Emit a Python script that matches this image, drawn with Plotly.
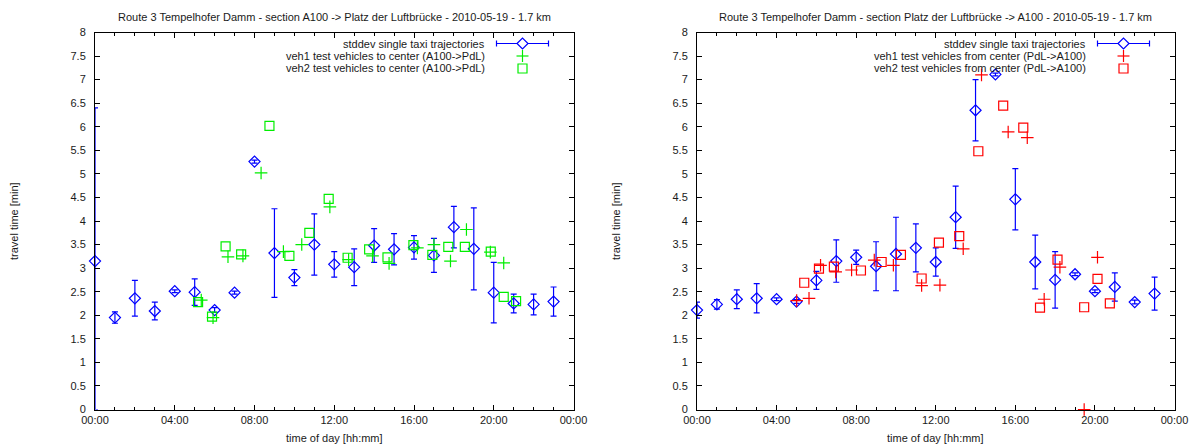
import plotly.graph_objects as go

W, H = 1193, 447

# ---------------- data ----------------
hours = list(range(24))

# left panel: A100 -> Platz der Luftbrücke
taxi_l_mean = [3.15, 1.95, 2.36, 2.09, 2.51, 2.49, 2.11, 2.48, 5.26, 3.32, 2.80, 3.50,
               3.08, 3.02, 3.48, 3.40, 3.44, 3.27, 3.87, 3.41, 2.48, 2.25, 2.23, 2.29]
taxi_l_sd = [3.25, 0.12, 0.38, 0.19, 0.03, 0.28, 0.05, 0.03, 0.03, 0.94, 0.17, 0.65,
             0.27, 0.39, 0.36, 0.33, 0.25, 0.36, 0.44, 0.87, 0.64, 0.20, 0.22, 0.31]
veh1_l_t = [5.33, 5.92, 6.67, 7.42, 8.33, 9.45, 10.37, 11.78, 12.72, 13.92, 14.75,
            16.17, 17.0, 17.83, 18.63, 19.83, 20.5]
veh1_l = [2.32, 1.95, 3.24, 3.26, 5.02, 3.35, 3.50, 4.30, 3.18, 3.26, 3.10,
          3.43, 3.50, 3.15, 3.82, 3.34, 3.11]
veh2_l_t = [5.17, 5.87, 6.55, 7.33, 8.75, 9.75, 10.75, 11.72, 12.67, 13.75, 14.67,
            15.97, 16.92, 17.72, 18.55, 19.85, 20.5, 21.12]
veh2_l = [2.28, 1.97, 3.46, 3.29, 6.02, 3.26, 3.75, 4.47, 3.22, 3.40, 3.23,
          3.49, 3.28, 3.45, 3.45, 3.35, 2.39, 2.30]

# right panel: Platz der Luftbrücke -> A100
taxi_r_mean = [2.11, 2.23, 2.34, 2.36, 2.34, 2.29, 2.74, 3.15, 3.23, 3.04, 3.30, 3.43,
               3.13, 4.08, 6.35, 7.11, 4.46, 3.13, 2.75, 2.87, 2.51, 2.60, 2.28, 2.46]
taxi_r_sd = [0.17, 0.10, 0.20, 0.31, 0.03, 0.04, 0.19, 0.45, 0.15, 0.52, 0.78, 0.51,
             0.30, 0.66, 0.65, 0.03, 0.65, 0.57, 0.60, 0.03, 0.03, 0.30, 0.04, 0.35]
veh1_r_t = [5.01, 5.63, 6.21, 6.97, 7.77, 8.91, 9.87, 11.29, 12.21, 13.38, 14.30,
            15.64, 16.60, 17.45, 18.24, 19.46, 20.13]
veh1_r = [2.31, 2.36, 3.06, 2.92, 2.96, 3.17, 3.06, 2.63, 2.64, 3.41, 7.10,
          5.89, 5.77, 2.34, 3.02, 0.0, 3.23]
veh2_r_t = [5.39, 6.13, 6.88, 8.24, 9.28, 10.25, 11.29, 12.16, 13.18, 14.14, 15.39,
            16.40, 17.24, 18.12, 19.46, 20.13, 20.75]
veh2_r = [2.69, 2.99, 3.03, 2.95, 3.13, 3.28, 2.78, 3.54, 3.68, 5.48, 6.45,
          5.98, 2.16, 3.18, 2.17, 2.77, 2.25]

x_tickvals = [0, 4, 8, 12, 16, 20, 24]
x_ticktext = ["00:00", "04:00", "08:00", "12:00", "16:00", "20:00", "00:00"]

titles = ["Route 3 Tempelhofer Damm - section A100 -> Platz der Luftbrücke - 2010-05-19 - 1.7 km",
          "Route 3 Tempelhofer Damm - section Platz der Luftbrücke -> A100 - 2010-05-19 - 1.7 km"]
legend_l = ["stddev single taxi trajectories",
            "veh1 test vehicles to center (A100->PdL)",
            "veh2 test vehicles to center (A100->PdL)"]
legend_r = ["stddev single taxi trajectories",
            "veh1 test vehicles from center (PdL->A100)",
            "veh2 test vehicles from center (PdL->A100)"]

BLUE = "#0000ff"
GREEN = "#00ee00"
RED = "#ff0000"
FONT = "Liberation Sans, Arial, sans-serif"
TXT = "#1a1a1a"

# panel pixel geometry
panels = [(95.0, 573.5), (697.0, 1174.5)]
PY_TOP, PY_BOT = 32.5, 409.5


def px(x):
    return x / W


def py(y):
    return 1 - y / H


fig = go.Figure()


def add_panel(i, mean, sd, t1, v1, t2, v2, col):
    xa = "x" if i == 0 else "x2"
    ya = "y" if i == 0 else "y2"
    minus = [min(s, m) for s, m in zip(sd, mean)]
    fig.add_trace(go.Scatter(
        x=hours, y=mean, mode="markers", xaxis=xa, yaxis=ya, cliponaxis=False,
        marker=dict(symbol="diamond-open", size=8.5, color=BLUE, line=dict(width=1.2, color=BLUE)),
        error_y=dict(type="data", array=sd, arrayminus=minus, symmetric=False,
                     color=BLUE, thickness=1.2, width=3),
        showlegend=False))
    fig.add_trace(go.Scatter(
        x=t1, y=v1, mode="markers", xaxis=xa, yaxis=ya, cliponaxis=False,
        marker=dict(symbol="cross-thin-open", size=9, color=col, line=dict(width=1.2, color=col)),
        showlegend=False))
    fig.add_trace(go.Scatter(
        x=t2, y=v2, mode="markers", xaxis=xa, yaxis=ya, cliponaxis=False,
        marker=dict(symbol="square-open", size=9, color=col, line=dict(width=1.2, color=col)),
        showlegend=False))


add_panel(0, taxi_l_mean, taxi_l_sd, veh1_l_t, veh1_l, veh2_l_t, veh2_l, GREEN)
add_panel(1, taxi_r_mean, taxi_r_sd, veh1_r_t, veh1_r, veh2_r_t, veh2_r, RED)

axis_common = dict(showline=True, linecolor="black", linewidth=1, mirror="allticks",
                   ticks="inside", tickcolor="black", showgrid=False, zeroline=False,
                   tickfont=dict(family=FONT, size=11, color=TXT))

for i, (x0, x1) in enumerate(panels):
    sfx = "" if i == 0 else "2"
    fig.layout["xaxis" + sfx] = dict(
        axis_common, domain=[px(x0), px(x1)], range=[0, 24], anchor="y" + sfx,
        tickvals=x_tickvals, ticktext=x_ticktext, ticklen=5,
        minor=dict(dtick=1, ticks="inside", ticklen=3, tickcolor="black", showgrid=False))
    fig.layout["yaxis" + sfx] = dict(
        axis_common, domain=[py(PY_BOT), py(PY_TOP)], range=[0, 8], anchor="x" + sfx,
        dtick=0.5, tick0=0, ticklen=5, ticklabelstandoff=6)

annotations = []
shapes = []
for i, (x0, x1) in enumerate(panels):
    cx = (x0 + x1) / 2
    annotations.append(dict(text=titles[i], x=px(cx), y=py(17), xref="paper", yref="paper",
                            xanchor="center", yanchor="middle", showarrow=False,
                            font=dict(family=FONT, size=11, color=TXT)))
    annotations.append(dict(text="time of day [hh:mm]", x=px(cx), y=py(438), xref="paper",
                            yref="paper", xanchor="center", yanchor="middle", showarrow=False,
                            font=dict(family=FONT, size=11, color=TXT)))
    annotations.append(dict(text="travel time [min]", x=px(x0 - 81), y=py((PY_TOP + PY_BOT) / 2),
                            xref="paper", yref="paper", xanchor="center", yanchor="middle",
                            textangle=-90, showarrow=False,
                            font=dict(family=FONT, size=11, color=TXT)))
    labels = legend_l if i == 0 else legend_r
    col = GREEN if i == 0 else RED
    tx = x1 - 87
    sx = x1 - 51
    rows = [43.5, 56, 68.5]
    for lab, ry in zip(labels, rows):
        annotations.append(dict(text=lab, x=px(tx), y=py(ry), xref="paper", yref="paper",
                                xanchor="right", yanchor="middle", showarrow=False,
                                font=dict(family=FONT, size=11, color=TXT)))
    # legend key: error bar + diamond
    ry = rows[0]
    shapes.append(dict(type="line", xref="paper", yref="paper", x0=px(sx - 26), x1=px(sx + 26),
                       y0=py(ry), y1=py(ry), line=dict(color=BLUE, width=1.2)))
    for ex in (sx - 26, sx + 26):
        shapes.append(dict(type="line", xref="paper", yref="paper", x0=px(ex), x1=px(ex),
                           y0=py(ry - 3), y1=py(ry + 3), line=dict(color=BLUE, width=1.2)))
    d = 5.5
    path = "M {} {} L {} {} L {} {} L {} {} Z".format(
        px(sx - d), py(ry), px(sx), py(ry - d), px(sx + d), py(ry), px(sx), py(ry + d))
    shapes.append(dict(type="path", xref="paper", yref="paper", path=path,
                       fillcolor="white", line=dict(color=BLUE, width=1.2)))
    # cross
    ry = rows[1]
    c = 6
    shapes.append(dict(type="line", xref="paper", yref="paper", x0=px(sx - c), x1=px(sx + c),
                       y0=py(ry), y1=py(ry), line=dict(color=col, width=1.2)))
    shapes.append(dict(type="line", xref="paper", yref="paper", x0=px(sx), x1=px(sx),
                       y0=py(ry - c), y1=py(ry + c), line=dict(color=col, width=1.2)))
    # square
    ry = rows[2]
    s = 4.5
    shapes.append(dict(type="rect", xref="paper", yref="paper", x0=px(sx - s), x1=px(sx + s),
                       y0=py(ry - s), y1=py(ry + s), line=dict(color=col, width=1.2)))

fig.update_layout(width=W, height=H, margin=dict(l=0, r=0, t=0, b=0, autoexpand=False),
                  plot_bgcolor="white", paper_bgcolor="white", showlegend=False,
                  annotations=annotations, shapes=shapes,
                  font=dict(family=FONT, size=11, color=TXT))

fig.write_html("out.html", config={"displayModeBar": False},
               post_script="document.body.style.margin='0';document.body.style.padding='0';")
